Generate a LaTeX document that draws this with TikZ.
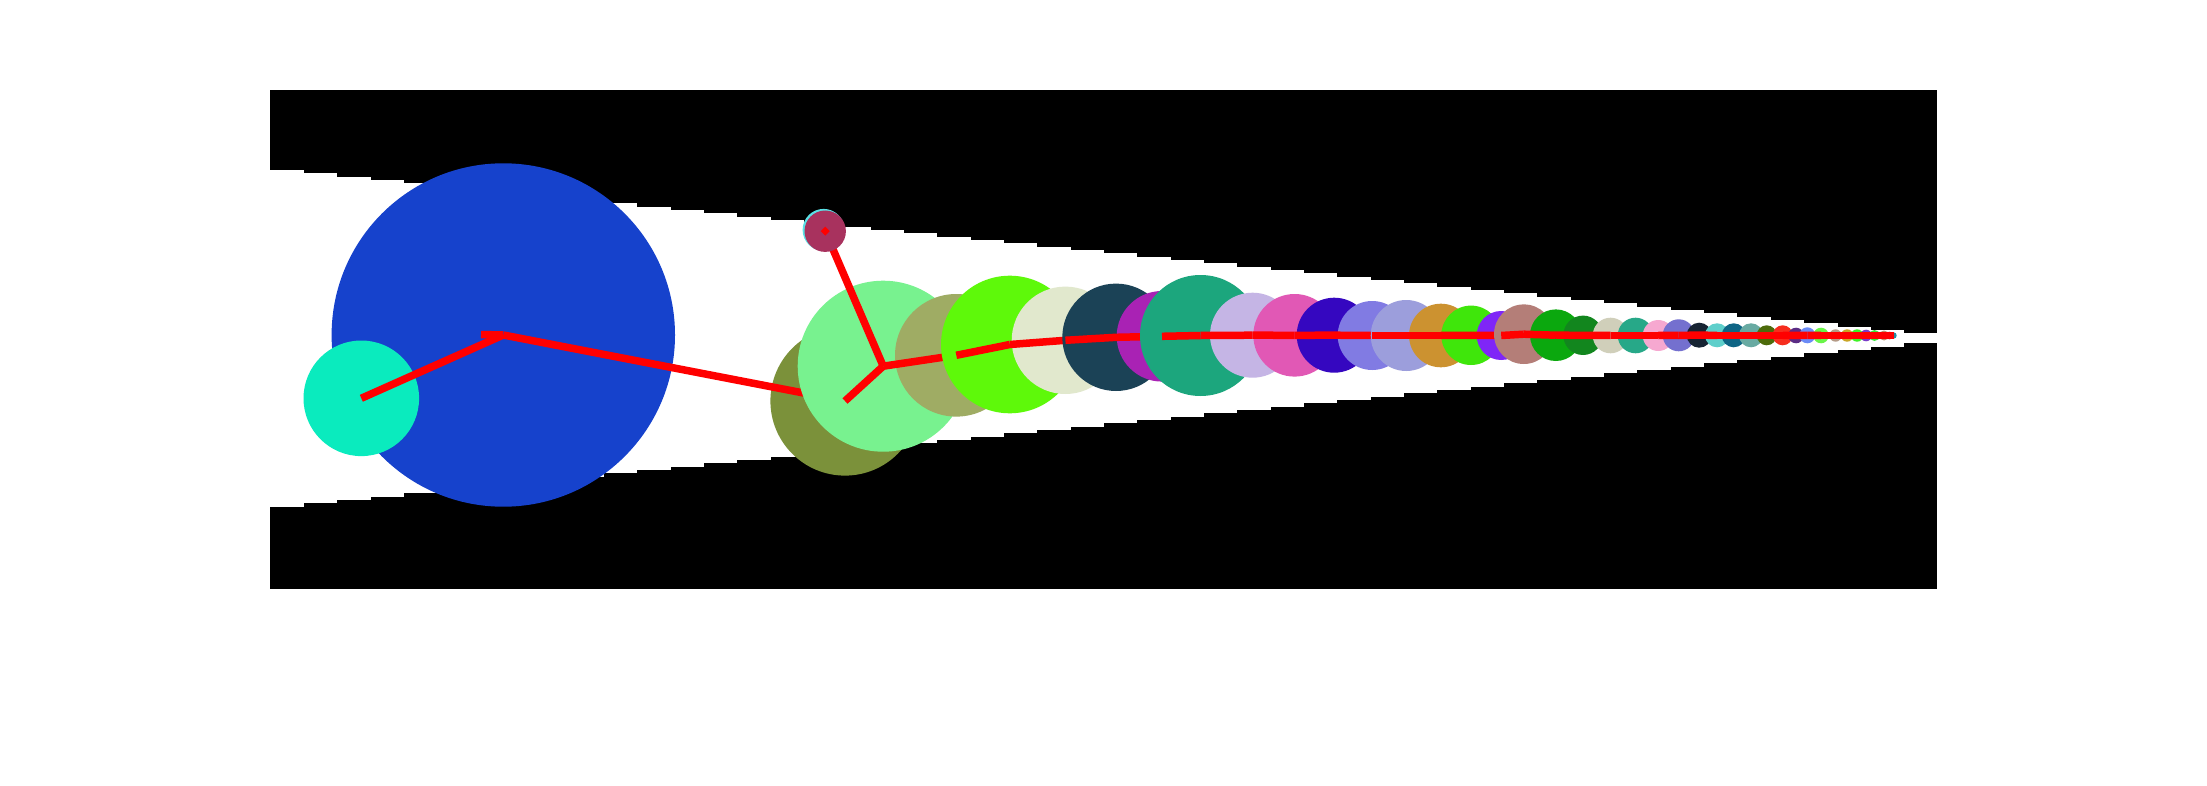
\documentclass[tikz,border=0pt]{standalone}
\usepackage{tikz}
\definecolor{c0}{RGB}{22,66,204}
\definecolor{c1}{RGB}{10,235,190}
\definecolor{c2}{RGB}{123,145,58}
\definecolor{c3}{RGB}{120,242,143}
\definecolor{c4c}{RGB}{90,225,230}
\definecolor{c4}{RGB}{168,50,94}
\definecolor{c5}{RGB}{159,172,100}
\definecolor{c6}{RGB}{94,249,10}
\definecolor{c7}{RGB}{225,232,205}
\definecolor{c8}{RGB}{27,66,86}
\definecolor{c9}{RGB}{169,34,180}
\definecolor{c10}{RGB}{28,166,125}
\definecolor{c11}{RGB}{197,181,229}
\definecolor{c12}{RGB}{225,88,181}
\definecolor{c13}{RGB}{53,7,192}
\definecolor{c14}{RGB}{129,123,227}
\definecolor{c15}{RGB}{156,158,220}
\definecolor{c16}{RGB}{204,146,48}
\definecolor{c17}{RGB}{63,230,11}
\definecolor{c18}{RGB}{127,38,247}
\definecolor{c19}{RGB}{180,126,120}
\definecolor{c20}{RGB}{11,168,14}
\definecolor{c21}{RGB}{18,134,30}
\definecolor{c22}{RGB}{208,207,186}
\definecolor{c23}{RGB}{39,168,136}
\definecolor{c24}{RGB}{246,168,208}
\definecolor{c25}{RGB}{116,112,207}
\definecolor{c26}{RGB}{23,36,51}
\definecolor{c27}{RGB}{94,207,203}
\definecolor{c28}{RGB}{14,101,133}
\definecolor{c29}{RGB}{104,170,162}
\definecolor{c30}{RGB}{77,107,11}
\definecolor{c31}{RGB}{246,45,30}
\definecolor{c32}{RGB}{91,44,133}
\definecolor{c33}{RGB}{107,139,246}
\definecolor{c34}{RGB}{105,245,72}
\definecolor{c35}{RGB}{180,155,135}
\definecolor{c36}{RGB}{201,165,38}
\definecolor{c37}{RGB}{61,243,38}
\definecolor{c38}{RGB}{120,60,200}
\definecolor{c39}{RGB}{60,230,60}
\definecolor{c40}{RGB}{190,150,110}
\definecolor{c41}{RGB}{230,120,120}
\definecolor{c42}{RGB}{40,140,160}
\definecolor{linkred}{RGB}{255,0,0}
\tikzset{
  link/.style={draw=linkred, line width=7.5pt},
}
\newcommand\mkdisc[5]{\coordinate (#1) at (#2,#3); \fill[#5] (#1) circle[radius=#4];}
\newcommand\mkball[6]{\mkdisc{#1}{#2}{#3}{#4}{#5}\draw[link] (#1) -- (#6);}
\begin{document}
\begin{tikzpicture}[x=1pt,y=-1pt]
\useasboundingbox (0,0) rectangle (2207,786);
\fill[white] (0,0) rectangle (2207,786);
\fill[black] (270,90) rectangle (1937,589);
\foreach \k in {0,...,49}{
  \pgfmathsetmacro\xa{270+33.34*\k}
  \pgfmathsetmacro\xb{min(\xa+33.84,1937)}
  \pgfmathsetmacro\hh{168.4-3.3333*\k}
  \fill[white] (\xa,338.3-\hh) rectangle (\xb,338.3+\hh);
}
% root and first branches
\mkdisc{n0}{503.3}{335}{171.7}{c0}
\coordinate (s0) at (481,334.5);
\draw[link] (n0) -- (s0);
\mkball{n1}{361.3}{398.3}{57.8}{c1}{n0}
\mkball{n2}{845}{401}{74.6}{c2}{n0}
\mkball{n3}{883.2}{366.2}{85.5}{c3}{n2}
\coordinate (n4) at (825.2,231.2);
\draw[link] (n4) -- (n3);
\mkdisc{n4c}{823.6}{229.9}{21}{c4c}
\fill[c4] (n4) circle[radius=20.7];
\fill[linkred] (n4) ++(0,-4.5) -- ++(4.5,4.5) -- ++(-4.5,4.5) -- ++(-4.5,-4.5) -- cycle;
\mkball{n5}{956.3}{355.3}{61.3}{c5}{n3}
\mkball{n6}{1009.8}{344.5}{68.8}{c6}{n5}
\mkball{n7}{1065.4}{340.3}{53.7}{c7}{n6}
\mkball{n8}{1116}{337.3}{53.7}{c8}{n7}
\mkball{n9}{1162}{336.3}{45.3}{c9}{n8}
\mkball{n10}{1200.5}{335.5}{60.5}{c10}{n9}
\mkball{n11}{1252.5}{335.2}{42.5}{c11}{n10}
\mkball{n12}{1294.6}{335.3}{41.3}{c12}{n11}
\mkball{n13}{1334.2}{335.2}{37.5}{c13}{n12}
\mkball{n14}{1372.2}{335.5}{34.5}{c14}{n13}
\mkball{n15}{1406.2}{335.5}{35.5}{c15}{n14}
\mkball{n16}{1440.8}{335.5}{31.8}{c16}{n15}
\mkball{n17}{1471}{335.3}{29.7}{c17}{n16}
\mkball{n18}{1501.2}{335.5}{24.5}{c18}{n17}
\mkball{n19}{1523.8}{334.2}{29.8}{c19}{n18}
\mkball{n20}{1555.8}{335.2}{25.8}{c20}{n19}
\mkball{n21}{1583}{335.3}{19.7}{c21}{n20}
\mkball{n22}{1610.5}{335.5}{17.8}{c22}{n21}
\mkball{n23}{1635.5}{335.5}{17.8}{c23}{n22}
\mkball{n24}{1658.2}{335.5}{15.5}{c24}{n23}
\mkball{n25}{1678.7}{335.3}{16}{c25}{n24}
\mkball{n26}{1699.2}{335.2}{12.5}{c26}{n25}
\mkball{n27}{1717}{335.3}{12}{c27}{n26}
\mkball{n28}{1733.7}{335.3}{12}{c28}{n27}
\mkball{n29}{1751}{335.3}{12}{c29}{n28}
\mkball{n30}{1766.7}{335.3}{10}{c30}{n29}
\mkball{n31}{1782.7}{335.3}{10}{c31}{n30}
\mkball{n32}{1796}{335.5}{7.8}{c32}{n31}
\mkball{n33}{1807.3}{335.3}{8}{c33}{n32}
\mkball{n34}{1821}{335.5}{7.8}{c34}{n33}
\mkball{n35}{1835.5}{335.5}{6.2}{c35}{n34}
\mkball{n36}{1847}{335.5}{6.2}{c36}{n35}
\mkball{n37}{1857}{335.5}{6.2}{c37}{n36}
\mkball{n38}{1866}{335.5}{5.8}{c38}{n37}
\mkball{n39}{1874.5}{335.5}{5.5}{c39}{n38}
\mkball{n40}{1884}{335.5}{5}{c40}{n39}
\mkball{n41}{1889.5}{335.5}{4}{c41}{n40}
\mkdisc{n42}{1893.5}{335.5}{3.2}{c42}
\draw[link] (n42) -- (n41);
\end{tikzpicture}
\end{document}
